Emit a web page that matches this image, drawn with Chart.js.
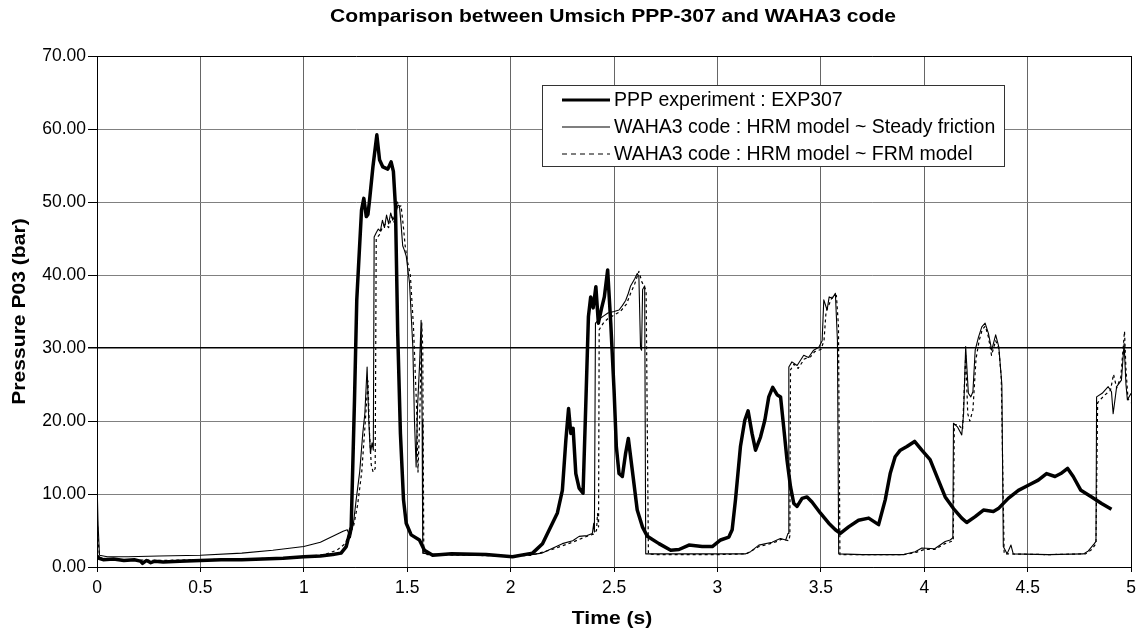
<!DOCTYPE html>
<html>
<head>
<meta charset="utf-8">
<script src="https://cdn.jsdelivr.net/npm/chart.js@4.4.1/dist/chart.umd.min.js"></script>
<style>
  html, body { margin: 0; padding: 0; background: #ffffff; }
  canvas { display: block; }
</style>
</head>
<body>
<canvas id="c" width="1142" height="642"></canvas>
<script>
const chartTitle = 'Comparison between Umsich PPP-307 and WAHA3 code';
const xAxisTitle = 'Time (s)';
const yAxisTitle = 'Pressure P03 (bar)';
const seriesNames = [
  'PPP experiment : EXP307',
  'WAHA3 code : HRM model ~ Steady friction',
  'WAHA3 code : HRM model ~ FRM model'
];
const xTickLabels = ['0','0.5','1','1.5','2','2.5','3','3.5','4','4.5','5'];
const yTickLabels = ['0.00','10.00','20.00','30.00','40.00','50.00','60.00','70.00'];

// [time (s), pressure (bar)]
const pppExperiment = [
  [0,1.5],[0.01,1.2],[0.03,1.0],[0.08,1.1],[0.13,0.9],[0.18,1.0],[0.21,0.8],[0.22,0.5],[0.24,0.9],[0.26,0.6],
  [0.28,0.8],[0.32,0.7],[0.4,0.8],[0.5,0.9],[0.6,1.0],[0.7,1.0],[0.8,1.1],[0.9,1.2],[1.0,1.4],[1.08,1.5],
  [1.14,1.7],[1.18,1.9],[1.205,2.8],[1.229,5.5],[1.245,22.9],[1.256,36.6],[1.266,42],[1.279,48.9],[1.29,50.5],[1.302,48],
  [1.31,48.3],[1.318,50.3],[1.334,54.8],[1.353,59.2],[1.366,55.8],[1.382,54.8],[1.406,54.5],[1.422,55.5],[1.433,54.2],[1.443,49.4],
  [1.454,32],[1.467,18.3],[1.482,9.2],[1.495,6],[1.519,4.4],[1.559,3.7],[1.583,2.3],[1.623,1.6],[1.714,1.8],[1.881,1.7],
  [2.009,1.4],[2.106,1.9],[2.154,3.2],[2.202,6],[2.226,7.4],[2.25,10.5],[2.267,17.4],[2.28,21.7],[2.291,18.3],[2.302,19],
  [2.315,12.8],[2.331,10.8],[2.35,10.1],[2.363,22],[2.376,34.3],[2.387,37],[2.399,35.5],[2.412,38.4],[2.424,33.4],[2.44,35.5],
  [2.453,37],[2.469,40.7],[2.484,33.4],[2.5,24.2],[2.511,16.5],[2.524,12.8],[2.54,12.4],[2.556,15.6],[2.569,17.6],[2.588,13.3],
  [2.612,7.8],[2.637,5.5],[2.661,4.2],[2.717,3.2],[2.774,2.3],[2.814,2.4],[2.862,3.0],[2.926,2.8],[2.975,2.8],[3.015,3.7],
  [3.055,4.1],[3.071,5.1],[3.087,9.2],[3.111,16.5],[3.132,20.1],[3.148,21.4],[3.167,18.3],[3.184,16.0],[3.208,17.8],[3.229,20.1],
  [3.248,23.3],[3.267,24.6],[3.288,23.6],[3.305,23.3],[3.32,19.2],[3.336,14.7],[3.353,11],[3.369,8.7],[3.385,8.3],[3.409,9.4],
  [3.433,9.6],[3.457,8.9],[3.497,7.4],[3.538,6],[3.57,5.1],[3.594,4.6],[3.634,5.5],[3.682,6.4],[3.731,6.7],[3.779,5.8],
  [3.811,9.2],[3.835,12.8],[3.859,15.1],[3.884,16],[3.916,16.5],[3.953,17.2],[3.988,16],[4.028,14.7],[4.068,11.9],[4.101,9.6],
  [4.141,8],[4.181,6.7],[4.205,6.1],[4.246,6.9],[4.286,7.8],[4.334,7.6],[4.358,8],[4.406,9.4],[4.455,10.5],[4.503,11.2],
  [4.551,11.9],[4.591,12.8],[4.632,12.4],[4.66,12.8],[4.693,13.5],[4.72,12.4],[4.757,10.5],[4.809,9.6],[4.857,8.7],[4.905,7.9]
];

const wahaSteadyFriction = [
  [0,11.9],[0.005,6],[0.012,1.6],[0.05,1.4],[0.15,1.4],[0.3,1.5],[0.5,1.6],[0.7,1.9],[0.85,2.3],[1.0,2.8],
  [1.08,3.4],[1.14,4.2],[1.19,4.9],[1.21,5.1],[1.225,4.0],[1.24,6],[1.253,9.2],[1.27,13],[1.285,18.3],[1.295,21],
  [1.306,27.4],[1.314,20],[1.322,15.6],[1.33,17],[1.336,16],[1.34,45.2],[1.35,45.8],[1.36,46.3],[1.37,46.0],[1.38,47.5],
  [1.39,46.5],[1.40,48.2],[1.41,47],[1.42,48.5],[1.43,47.5],[1.445,48.5],[1.455,49.6],[1.462,49.5],[1.47,47],[1.478,44],
  [1.486,43.4],[1.495,42.6],[1.511,38.9],[1.527,30.2],[1.535,20],[1.543,13.7],[1.55,22],[1.56,28],[1.567,33.8],[1.572,20],
  [1.575,1.9],[1.6,1.8],[1.8,1.6],[2.0,1.5],[2.1,1.7],[2.15,1.9],[2.25,3.2],[2.3,3.6],[2.331,4.2],[2.37,4.3],
  [2.395,4.6],[2.402,6],[2.405,4.8],[2.41,33.4],[2.43,34],[2.45,34.4],[2.47,34.8],[2.5,35],[2.524,35.2],[2.54,35.8],
  [2.556,36.5],[2.569,37.5],[2.58,38.5],[2.6,39.5],[2.612,40.2],[2.62,39.8],[2.628,30],[2.633,29.7],[2.638,38],[2.648,38.5],
  [2.653,1.8],[2.7,1.8],[3.0,1.8],[3.136,1.8],[3.16,2.1],[3.2,3.0],[3.264,3.4],[3.304,3.9],[3.33,3.7],[3.341,4.6],
  [3.345,27.4],[3.36,28.1],[3.385,27.6],[3.417,29.0],[3.44,28.7],[3.465,29.7],[3.49,30.1],[3.506,31],[3.514,36.6],[3.53,35.2],
  [3.54,37],[3.555,36.8],[3.57,37.5],[3.58,31],[3.586,1.8],[3.7,1.7],[3.9,1.7],[3.956,2.1],[3.988,2.6],[4.05,2.5],
  [4.101,3.5],[4.125,3.7],[4.138,4],[4.141,19.7],[4.16,19.2],[4.181,18.1],[4.19,21],[4.2,30.2],[4.213,23.8],[4.225,23.3],
  [4.235,24],[4.246,29.7],[4.262,31.5],[4.278,32.9],[4.294,33.4],[4.31,32],[4.326,29.7],[4.345,31.8],[4.36,30.2],[4.375,25],
  [4.382,2.8],[4.4,1.8],[4.419,3],[4.43,1.8],[4.6,1.7],[4.77,1.8],[4.793,2.2],[4.822,3.2],[4.83,3.5],[4.833,23.3],
  [4.86,23.8],[4.889,24.7],[4.905,24],[4.913,21],[4.93,24.7],[4.953,25.6],[4.966,30.6],[4.975,25],[4.982,22.9],[5.0,23.8]
];

const wahaFrmModel = [
  [0,8],[0.005,4],[0.012,1.3],[0.05,1.1],[0.15,1.0],[0.3,0.9],[0.5,1.0],[0.7,1.1],[0.85,1.2],[1.0,1.4],
  [1.1,1.7],[1.16,2.3],[1.2,3.2],[1.22,4.6],[1.24,5.5],[1.26,8.5],[1.28,13],[1.295,19],[1.31,25.5],[1.318,18],
  [1.326,14],[1.335,13],[1.345,13.5],[1.35,45],[1.365,45.5],[1.38,46.5],[1.395,47],[1.41,46.5],[1.425,48],[1.44,47],
  [1.452,50],[1.46,49.3],[1.47,49.5],[1.48,47],[1.49,44],[1.5,42],[1.515,40],[1.53,33],[1.545,22],[1.552,13],
  [1.56,20],[1.57,33.5],[1.575,30],[1.58,1.8],[1.6,1.7],[1.8,1.6],[2.0,1.5],[2.1,1.6],[2.2,2.4],[2.3,3.4],
  [2.35,4],[2.4,4.5],[2.415,5],[2.42,7.3],[2.425,5.5],[2.428,32.5],[2.45,33.5],[2.47,34],[2.5,34.5],[2.53,35],
  [2.56,36],[2.58,37.5],[2.6,38.8],[2.62,40.5],[2.635,39],[2.645,38.5],[2.655,37.8],[2.666,1.8],[2.7,1.7],[3.0,1.7],
  [3.14,1.8],[3.2,2.8],[3.27,3.3],[3.31,3.8],[3.345,3.6],[3.35,4.3],[3.353,27],[3.37,27.8],[3.39,27.2],[3.42,28.5],
  [3.45,28.8],[3.47,29.5],[3.5,29.8],[3.515,31],[3.525,35],[3.54,36],[3.555,37],[3.575,37.2],[3.585,33],[3.592,1.7],
  [3.7,1.7],[3.9,1.7],[3.96,2.0],[4.0,2.4],[4.05,2.4],[4.1,3.2],[4.14,3.6],[4.145,19.5],[4.165,19.5],[4.185,18.8],
  [4.2,29],[4.21,21],[4.22,20],[4.235,21.5],[4.25,28.5],[4.265,31],[4.28,32.5],[4.295,33],[4.31,31.5],[4.325,29],
  [4.345,31],[4.36,30],[4.372,26],[4.386,1.8],[4.6,1.7],[4.78,1.8],[4.81,2.4],[4.83,3.2],[4.838,22.5],[4.87,23.5],
  [4.9,24.2],[4.915,26.4],[4.93,24.5],[4.95,26],[4.968,32.3],[4.975,27],[4.985,23],[5.0,22.5]
];

const toPoints = (arr) => arr.map(([x, y]) => ({ x, y }));
const FONT = '"Liberation Sans", Arial, sans-serif';

const seriesStyles = [
  { width: 3.5, dash: [] },
  { width: 1.1, dash: [] },
  { width: 1.2, dash: [3, 3] }
];

const decorPlugin = {
  id: 'decor',
  afterDatasetsDraw(chart) {
    const ctx = chart.ctx;
    // legend box
    const bx = 542.5, by = 85.5, bw = 462, bh = 81;
    ctx.save();
    ctx.fillStyle = '#ffffff';
    ctx.fillRect(bx, by, bw, bh);
    ctx.strokeStyle = '#333333';
    ctx.lineWidth = 1;
    ctx.strokeRect(bx, by, bw, bh);
    const rows = [100, 127, 154];
    seriesNames.forEach((name, i) => {
      const st = seriesStyles[i];
      ctx.beginPath();
      ctx.setLineDash(st.dash.length ? [5, 4] : []);
      ctx.lineWidth = i === 0 ? 3 : 1.2;
      ctx.strokeStyle = '#000';
      ctx.moveTo(562, rows[i]);
      ctx.lineTo(610, rows[i]);
      ctx.stroke();
      ctx.setLineDash([]);
      ctx.fillStyle = '#000';
      ctx.font = '19.5px ' + FONT;
      ctx.textAlign = 'left';
      ctx.textBaseline = 'middle';
      ctx.fillText(name, 614, rows[i] + 1);
    });
    ctx.restore();
  },
  afterDraw(chart) {
    const ctx = chart.ctx;
    const area = chart.chartArea;
    const cx = (area.left + area.right) / 2;
    ctx.save();
    ctx.fillStyle = '#000';
    ctx.textAlign = 'center';
    ctx.textBaseline = 'middle';
    ctx.font = 'bold 18.5px ' + FONT;
    // title
    ctx.save();
    ctx.translate(cx - 1, 17);
    ctx.scale(1.14, 1);
    ctx.fillText(chartTitle, 0, 0);
    ctx.restore();
    // x title
    ctx.save();
    ctx.translate(cx - 2, 619);
    ctx.scale(1.14, 1);
    ctx.fillText(xAxisTitle, 0, 0);
    ctx.restore();
    // y title
    ctx.save();
    ctx.translate(20, (area.top + area.bottom) / 2);
    ctx.rotate(-Math.PI / 2);
    ctx.scale(1.14, 1);
    ctx.fillText(yAxisTitle, 0, 0);
    ctx.restore();
    ctx.restore();
  }
};

Chart.defaults.font.family = FONT;
Chart.defaults.color = '#000';

new Chart(document.getElementById('c'), {
  type: 'line',
  data: {
    datasets: [pppExperiment, wahaSteadyFriction, wahaFrmModel].map((d, i) => ({
      label: seriesNames[i],
      data: toPoints(d),
      borderColor: '#000',
      backgroundColor: '#000',
      borderWidth: seriesStyles[i].width,
      borderDash: seriesStyles[i].dash,
      pointRadius: 0,
      tension: 0,
      fill: false,
      borderJoinStyle: 'round',
      order: 3 - i
    }))
  },
  options: {
    responsive: false,
    animation: false,
    layout: { padding: { top: 56, right: 9, left: 0, bottom: 0 } },
    plugins: {
      legend: { display: false },
      title: { display: false },
      tooltip: { enabled: false }
    },
    scales: {
      x: {
        type: 'linear',
        min: 0,
        max: 5,
        ticks: {
          stepSize: 0.5,
          font: { size: 17.5 },
          padding: 6,
          maxRotation: 0,
          autoSkip: false,
          callback: (v) => xTickLabels[Math.round(v * 2)] ?? ''
        },
        grid: {
          color: (c) => (c.tick && c.tick.value === 5 ? '#000' : '#666'),
          tickColor: '#000',
          tickLength: 5,
          lineWidth: 1
        },
        border: { color: '#000', width: 1 },
        afterFit: (s) => { s.height = 75; }
      },
      y: {
        min: 0,
        max: 70,
        ticks: {
          stepSize: 10,
          font: { size: 17.5 },
          padding: 2,
          callback: (v) => yTickLabels[Math.round(v / 10)] ?? ''
        },
        grid: {
          color: (c) => (c.tick && (c.tick.value === 70 || c.tick.value === 30) ? '#000' : '#808080'),
          tickColor: '#000',
          tickLength: 9,
          lineWidth: (c) => (c.tick && c.tick.value === 30 ? 1.5 : 1)
        },
        border: { color: '#000', width: 1 },
        afterFit: (s) => { s.width = 97; }
      }
    }
  },
  plugins: [decorPlugin]
});
</script>
</body>
</html>
